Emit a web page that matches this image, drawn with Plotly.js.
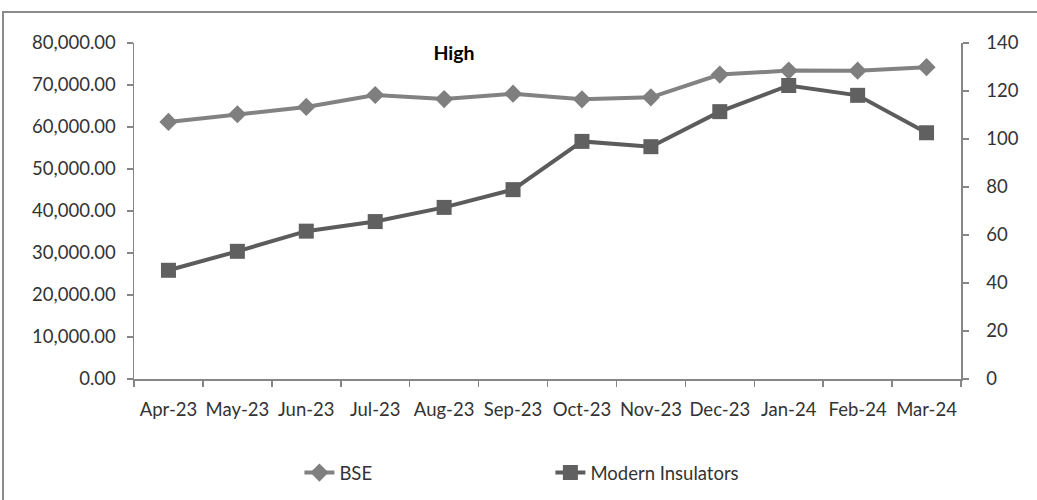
<!DOCTYPE html>
<html>
<head>
<meta charset="utf-8">
<script src="https://cdn.plot.ly/plotly-3.0.1.min.js"></script>
<style>
  html, body { margin: 0; padding: 0; background: #fff; }
  #frame { position: absolute; left: 2px; top: 11px; width: 1100px; height: 600px;
           border-top: 2px solid #8a8a8a; border-left: 2px solid #8a8a8a; }
  #chart { position: absolute; left: 0; top: 0; width: 1037px; height: 500px; }
</style>
</head>
<body>
<div id="frame"></div>
<div id="chart"></div>
<script>
const months = ["Apr-23","May-23","Jun-23","Jul-23","Aug-23","Sep-23","Oct-23","Nov-23","Dec-23","Jan-24","Feb-24","Mar-24"];
const bseHigh = [61209, 63036, 64768, 67619, 66658, 67927, 66592, 67069, 72484, 73427, 73413, 74245];
const modernHigh = [45.3, 53.2, 61.6, 65.6, 71.5, 78.9, 99.0, 96.8, 111.4, 122.3, 118.2, 102.6];
const leftTicks = [0, 10000, 20000, 30000, 40000, 50000, 60000, 70000, 80000];
const leftTickText = ["0.00","10,000.00","20,000.00","30,000.00","40,000.00","50,000.00","60,000.00","70,000.00","80,000.00"];
const rightTicks = [0, 20, 40, 60, 80, 100, 120, 140];

const FONT = "Lato, 'Open Sans', sans-serif";
const TXT = "#333333";
const AX = "#868686";
const FS = 18.5;

const traces = [
  {
    x: months, y: bseHigh, name: "BSE", type: "scatter", mode: "lines+markers",
    line: {color: "#828282", width: 4},
    marker: {symbol: "diamond", size: 14, color: "#7f7f7f"},
    yaxis: "y"
  },
  {
    x: months, y: modernHigh, name: "Modern Insulators", type: "scatter", mode: "lines+markers",
    line: {color: "#5c5c5c", width: 4},
    marker: {symbol: "square", size: 15, color: "#606060"},
    yaxis: "y2"
  }
];

const layout = {
  width: 1037, height: 500,
  margin: {l: 134, r: 76, t: 43, b: 121, autoexpand: false},
  paper_bgcolor: "rgba(0,0,0,0)",
  plot_bgcolor: "rgba(0,0,0,0)",
  font: {family: FONT, size: FS, color: TXT},
  showlegend: true,
  title: {
    text: "<b>High</b>", font: {family: FONT, size: 19.5, color: "#000"},
    x: 0.387, xref: "paper", xanchor: "center",
    y: 0.97, yref: "paper", yanchor: "middle"
  },
  xaxis: {
    type: "category", range: [-0.5, 11.5],
    showline: true, linecolor: AX, linewidth: 1.5,
    ticks: "outside", tickson: "boundaries", ticklen: 6, tickcolor: AX, tickwidth: 1.5,
    showgrid: false, zeroline: false, fixedrange: true,
    tickangle: 0, automargin: false,
    ticklabelstandoff: 13,
    tickfont: {family: FONT, size: FS, color: TXT}
  },
  yaxis: {
    range: [0, 80000], tickvals: leftTicks, ticktext: leftTickText,
    showline: true, linecolor: AX, linewidth: 1.5,
    ticks: "outside", ticklen: 6, tickcolor: AX, tickwidth: 1.5,
    showgrid: false, zeroline: false, fixedrange: true, automargin: false,
    ticklabelstandoff: 7,
    tickfont: {family: FONT, size: FS, color: TXT}
  },
  yaxis2: {
    range: [0, 140], tickvals: rightTicks,
    overlaying: "y", side: "right",
    showline: true, linecolor: AX, linewidth: 1.5,
    ticks: "outside", ticklen: 6, tickcolor: AX, tickwidth: 1.5,
    showgrid: false, zeroline: false, fixedrange: true, automargin: false,
    ticklabelstandoff: 14,
    tickfont: {family: FONT, size: FS, color: TXT}
  },
  legend: {
    orientation: "h", x: 0.2, xanchor: "left", y: -0.28, yanchor: "middle",
    entrywidth: 206, entrywidthmode: "pixels",
    font: {family: FONT, size: FS, color: TXT},
    bgcolor: "rgba(0,0,0,0)"
  }
};

Plotly.newPlot("chart", traces, layout, {displayModeBar: false, staticPlot: true});
</script>
</body>
</html>
